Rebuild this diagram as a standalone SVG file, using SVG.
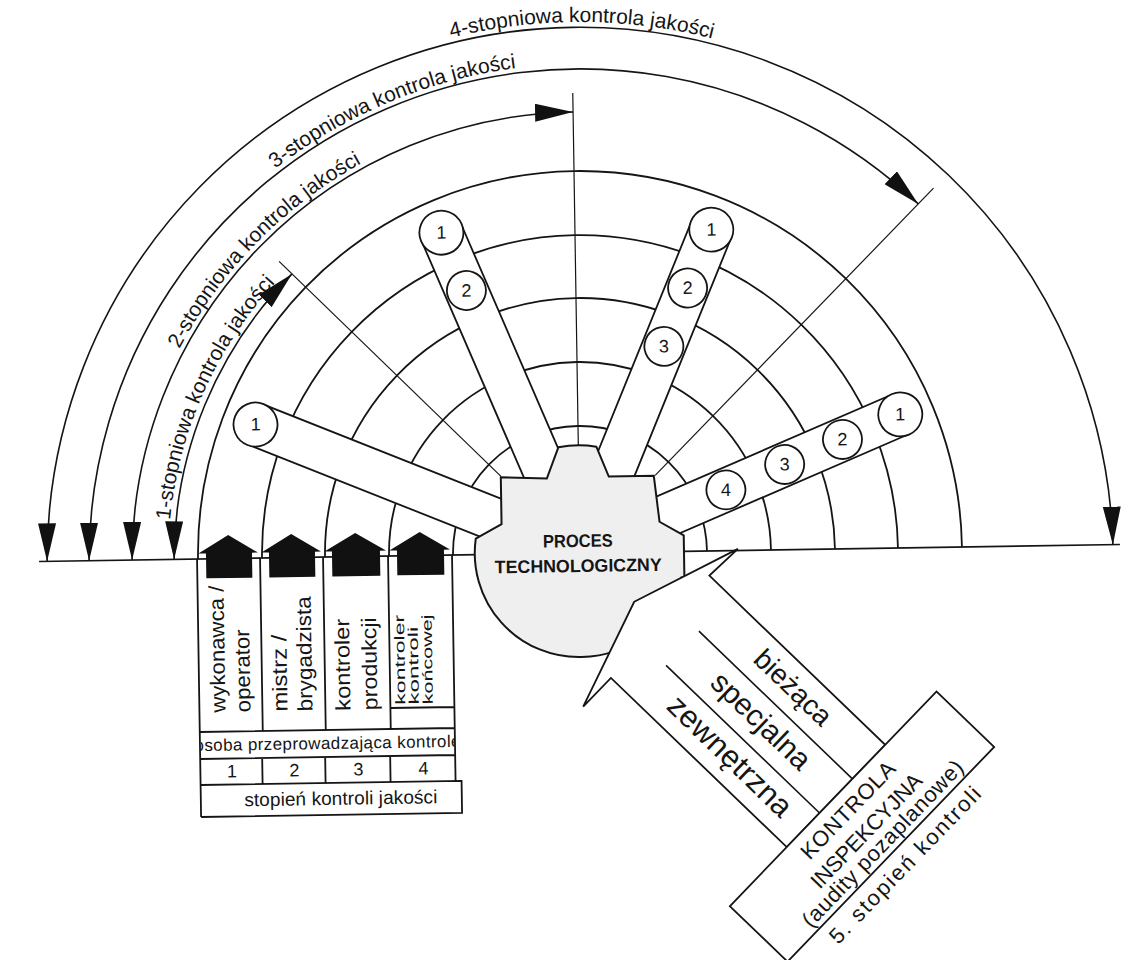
<svg xmlns="http://www.w3.org/2000/svg" width="1129" height="960" viewBox="0 0 1129 960">
<defs>
<style>
.g{fill:none;stroke:#151515;stroke-width:1.8}
.r{fill:none;stroke:#151515;stroke-width:1.2}
.b{fill:none;stroke:#151515;stroke-width:1.6}
.w{fill:#fff;stroke:#151515;stroke-width:1.8}
.k{fill:#111;stroke:none}
.tx{font-family:"Liberation Sans",Arial,Helvetica,sans-serif;fill:#151515}
.arc{font-size:21px}
.num{font-size:18px;text-anchor:middle}
.col{font-size:21px}
.col4{font-size:14px}
.hubt{font-size:18px;font-weight:bold;text-anchor:middle}
.lane{text-anchor:middle}
.boxt{font-size:22px;text-anchor:middle}
</style>
<marker id="ah" viewBox="0 0 38 18" refX="38" refY="9" markerWidth="38" markerHeight="18" markerUnits="userSpaceOnUse" orient="auto-start-reverse"><path d="M0,0 L38,9 L0,18 Z" fill="#111"/></marker>
<path id="tp4" d="M -538,7 A 538 538 0 0 1 538,7"/>
<path id="tp3" d="M -496,7 A 496 496 0 0 1 496,7"/>
<path id="tp2" d="M -453,7 A 453 453 0 0 1 453,7"/>
<path id="tp1" d="M -412,7 A 412 412 0 0 1 412,7"/>
<clipPath id="rowclip"><rect x="-382" y="174" width="253" height="25"/></clipPath>
</defs>
<rect width="1129" height="960" fill="#fff"/>
<g transform="translate(580,553) rotate(-0.9)">
<g id="connectors">
<path class="g" d="M -127,0 A 127 127 0 0 1 127,0"/>
<path class="g" d="M -191,0 A 191 191 0 0 1 191,0"/>
<path class="g" d="M -255,0 A 255 255 0 0 1 255,0"/>
<path class="g" d="M -318,0 A 318 318 0 0 1 318,0"/>
<path class="g" d="M -382,0 A 382 382 0 0 1 382,0"/>
<path class="r" d="M 0,-107 V -460"/>
<path class="r" d="M 76.4,-76.4 L 359.2,-359.2"/>
<path class="r" d="M -77.8,-77.8 L -296.3,-296.3"/>
<path class="b" d="M -541,0 H 540"/>
<path class="b" marker-start="url(#ah)" marker-end="url(#ah)" d="M -532.95,0 A 533 533 0 0 1 532.95,0"/>
<path class="b" marker-start="url(#ah)" marker-end="url(#ah)" d="M -490.95,0 A 491 491 0 0 1 343.7,-343.7"/>
<path class="b" marker-start="url(#ah)" marker-end="url(#ah)" d="M -447.95,0 A 448 448 0 0 1 0,-441"/>
<path class="b" marker-start="url(#ah)" marker-end="url(#ah)" d="M -405.94,0 A 406 406 0 0 1 -283.6,-283.6"/>
</g>
<g id="arc-labels" class="tx arc">
<text text-anchor="middle"><textPath href="#tp4" startOffset="50.6%">4-stopniowa kontrola jakości</textPath></text>
<text text-anchor="middle"><textPath href="#tp3" startOffset="37.9%">3-stopniowa kontrola jakości</textPath></text>
<text text-anchor="middle"><textPath href="#tp2" startOffset="25.2%">2-stopniowa kontrola jakości</textPath></text>
<text text-anchor="middle"><textPath href="#tp1" startOffset="13.8%">1-stopniowa kontrola jakości</textPath></text>
</g>
<g id="spoke-1">
<g transform="rotate(-157.5)"><rect class="w" x="60" y="-21.5" width="289" height="43"/><circle class="w" cx="349" cy="0" r="22"/></g>
<text class="tx num" x="-322.4" y="-127.6">1</text>
</g>
<g id="spoke-2">
<g transform="rotate(-112.5)"><rect class="w" x="60" y="-21.5" width="289" height="43"/><circle class="w" cx="349" cy="0" r="22"/><circle class="w" cx="286" cy="0" r="19.5"/></g>
<text class="tx num" x="-133.6" y="-316.4">1</text>
<text class="tx num" x="-109.5" y="-258.2">2</text>
</g>
<g id="spoke-3">
<g transform="rotate(-67)"><rect class="w" x="60" y="-21.5" width="289" height="43"/><circle class="w" cx="349" cy="0" r="22"/><circle class="w" cx="286" cy="0" r="19.5"/><circle class="w" cx="223" cy="0" r="19.5"/></g>
<text class="tx num" x="136.4" y="-315.3">1</text>
<text class="tx num" x="111.7" y="-257.3">2</text>
<text class="tx num" x="87.1" y="-199.3">3</text>
</g>
<g id="spoke-4">
<g transform="rotate(-22.5)"><rect class="w" x="60" y="-21.5" width="289" height="43"/><circle class="w" cx="349" cy="0" r="22"/><circle class="w" cx="286" cy="0" r="19.5"/><circle class="w" cx="223" cy="0" r="19.5"/><circle class="w" cx="159" cy="0" r="19.5"/></g>
<text class="tx num" x="322.4" y="-127.6">1</text>
<text class="tx num" x="264.2" y="-103.5">2</text>
<text class="tx num" x="206" y="-79.3">3</text>
<text class="tx num" x="146.9" y="-54.8">4</text>
</g>
<g id="hub">
<path d="M -104,-16 L -78,-30 L -78,-77 L -32,-75 L -20,-106 A 108 108 0 0 1 18,-106 L 30,-76 L 75,-76 L 80,-30 L 104,-16 L 104,26 L 101,26 A 104 104 0 0 1 0,104 A 104 104 0 0 1 -104,-16 Z" fill="#efefef" stroke="#151515" stroke-width="2"/>
<text class="tx hubt" x="-2" y="-6" textLength="70" lengthAdjust="spacingAndGlyphs">PROCES</text>
<text class="tx hubt" x="-2" y="19" textLength="167" lengthAdjust="spacingAndGlyphs">TECHNOLOGICZNY</text>
</g>
<g id="kontrola-arrow" transform="translate(79,75) rotate(44.8)">
<path class="w" d="M -36,0 L 2,-110 L 0,-71 L 244,-71 L 244,71 L 0,71 L 0,111 Z"/>
<path class="b" d="M 31,-23.7 H 244 M 31,23.7 H 244"/>
<text class="tx lane" font-size="28" x="138" y="-39" textLength="96">bieżąca</text>
<text class="tx lane" font-size="30" x="138" y="8" textLength="126">specjalna</text>
<text class="tx lane" font-size="31" x="140" y="55" textLength="160">zewnętrzna</text>
</g>
<g id="kontrola-box" transform="translate(79,75) rotate(44.8)">
<rect class="w" x="244" y="-145" width="80" height="298"/>
<text class="tx boxt" font-size="23" transform="translate(270,2) rotate(-90)" textLength="126">KONTROLA</text>
<text class="tx boxt" transform="translate(297.5,4) rotate(-90)" textLength="150">INSPEKCYJNA</text>
<text class="tx boxt" transform="translate(318,2) rotate(-90)" textLength="222">(audity pozaplanowe)</text>
<text class="tx boxt" font-size="23" transform="translate(349,2) rotate(-90)" textLength="208">5. stopień kontroli</text>
</g>
<g id="table">
<path class="g" d="M -383,0 V 258 M -320,0 V 173 M -257,0 V 173 M -192,0 V 173 M -128,0 V 226 M -383,173 H -128 M -383,200 H -128 M -383,226 H -122 V 258 H -383 M -321,200 V 226 M -258,200 V 226 M -193,200 V 226 M -192,152 H -128"/>
<path class="k" d="M -381.5,-5.5 L -351.5,-23.5 L -322,-5.5 L -328,-5.5 L -328,19.5 L -374,19.5 L -374,-5.5 Z"/>
<path class="k" d="M -318.5,-5.5 L -288.5,-23.5 L -259,-5.5 L -265,-5.5 L -265,19.5 L -311,19.5 L -311,-5.5 Z"/>
<path class="k" d="M -255.5,-5.5 L -224.5,-23.5 L -194,-5.5 L -200,-5.5 L -200,19.5 L -248,19.5 L -248,-5.5 Z"/>
<path class="k" d="M -190.5,-5.5 L -160,-23.5 L -130,-5.5 L -136,-5.5 L -136,19.5 L -183,19.5 L -183,-5.5 Z"/>
<text class="tx col" transform="translate(-357,154) rotate(-90)" textLength="127" lengthAdjust="spacingAndGlyphs">wykonawca /</text>
<text class="tx col" transform="translate(-332,154) rotate(-90)" textLength="83" lengthAdjust="spacingAndGlyphs">operator</text>
<text class="tx col" transform="translate(-295,154) rotate(-90)" textLength="77" lengthAdjust="spacingAndGlyphs">mistrz /</text>
<text class="tx col" transform="translate(-270,154) rotate(-90)" textLength="115" lengthAdjust="spacingAndGlyphs">brygadzista</text>
<text class="tx col" transform="translate(-232,154) rotate(-90)" textLength="92" lengthAdjust="spacingAndGlyphs">kontroler</text>
<text class="tx col" transform="translate(-205,154) rotate(-90)" textLength="93" lengthAdjust="spacingAndGlyphs">produkcji</text>
<text class="tx col4" transform="translate(-177,149) rotate(-90)" textLength="90" lengthAdjust="spacingAndGlyphs">kontroler</text>
<text class="tx col4" transform="translate(-163.5,149) rotate(-90)" textLength="78" lengthAdjust="spacingAndGlyphs">kontroli</text>
<text class="tx col4" transform="translate(-149.5,149) rotate(-90)" textLength="90" lengthAdjust="spacingAndGlyphs">końcowej</text>
<text class="tx" font-size="17" x="-255.5" y="192" text-anchor="middle" textLength="266" clip-path="url(#rowclip)">osoba przeprowadzająca kontrolę</text>
<text class="tx num" x="-351.5" y="219">1</text>
<text class="tx num" x="-289" y="219">2</text>
<text class="tx num" x="-225" y="219">3</text>
<text class="tx num" x="-160" y="219">4</text>
<text class="tx" font-size="19" x="-243" y="248" text-anchor="middle" textLength="193">stopień kontroli jakości</text>
</g>
</g>
</svg>
